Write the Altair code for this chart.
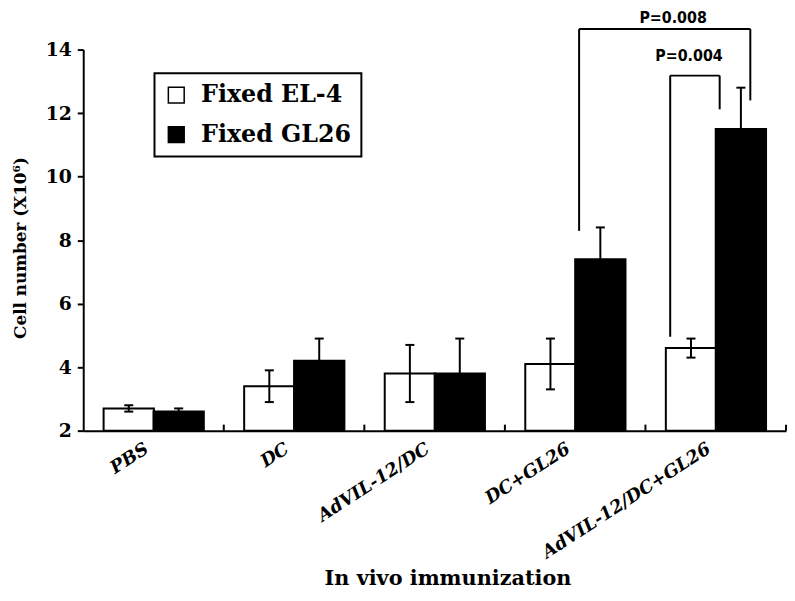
import json
import altair as alt
import pandas as pd

# ---------------- data ----------------
categories = ["PBS", "DC", "AdVIL-12/DC", "DC+GL26", "AdVIL-12/DC+GL26"]
series = ["Fixed EL-4", "Fixed GL26"]
el4_mean = [2.7, 3.4, 3.8, 4.1, 4.6]
el4_err = [0.1, 0.5, 0.9, 0.8, 0.3]
gl26_mean = [2.6, 4.2, 3.8, 7.4, 11.5]
gl26_err = [0.1, 0.7, 1.1, 1.0, 1.3]
y_ticks = [2, 4, 6, 8, 10, 12, 14]
category_bounds = [1, 2, 3, 4, 5]

# significance brackets (in data units)
p_labels = ["P=0.008", "P=0.004"]
p_label_x = [4.197, 4.31]
p_label_y = [15.0, 13.8]
br_left_x = [3.528, 4.176]
br_right_x = [4.746, 4.528]
br_top = [14.65, 13.18]
br_left_bottom = [8.29, 4.96]
br_right_bottom = [12.4, 12.12]

# ---------------- layout constants ----------------
BAR_START = {"Fixed EL-4": 0.145, "Fixed GL26": 0.5}
BAR_W = 0.358
CAP = 0.032
Y_MIN = 2

rows = []
for i, c in enumerate(categories):
    for s, m, e in ((series[0], el4_mean[i], el4_err[i]), (series[1], gl26_mean[i], gl26_err[i])):
        x0 = i + BAR_START[s]
        x1 = x0 + BAR_W
        rows.append(dict(cat=c, series=s, x0=x0, x1=x1, xc=(x0 + x1) / 2,
                         mean=m, lo=m - e, hi=m + e))
bars_df = pd.DataFrame(rows)

caps = []
for r in rows:
    for yv in (r["lo"], r["hi"]):
        caps.append(dict(cx0=r["xc"] - CAP, cx1=r["xc"] + CAP, cy=yv))
caps_df = pd.DataFrame(caps)

segs = []
for k in range(len(p_labels)):
    segs.append(dict(sx=br_left_x[k], sx2=br_left_x[k], sy=br_left_bottom[k], sy2=br_top[k]))
    segs.append(dict(sx=br_left_x[k], sx2=br_right_x[k], sy=br_top[k], sy2=br_top[k]))
    segs.append(dict(sx=br_right_x[k], sx2=br_right_x[k], sy=br_right_bottom[k], sy2=br_top[k]))
segs_df = pd.DataFrame(segs)
plabels_df = pd.DataFrame(dict(t=p_labels, px=p_label_x, py=p_label_y))
bounds_df = pd.DataFrame(dict(b=category_bounds, y0=[Y_MIN] * len(category_bounds),
                              y1=[Y_MIN + 0.19] * len(category_bounds)))

xscale = alt.Scale(domain=[0, len(categories)], nice=False, zero=False)
yscale = alt.Scale(domain=[Y_MIN, 14], nice=False, zero=False)

SERIF = "DejaVu Serif"
label_expr = json.dumps(categories) + "[floor(datum.value)]"

x_axis = alt.Axis(
    values=[i + 0.5 for i in range(len(categories))], labelExpr=label_expr,
    ticks=False, tickSize=0, labelAngle=327, labelAlign="right", labelBaseline="top",
    labelPadding=9, labelOffset=-12, labelFont=SERIF, labelFontStyle="italic",
    labelFontWeight="bold", labelFontSize=18, labelColor="black", labelLimit=500,
    labelOverlap=False, labelFlush=False, labelBound=False,
    title="In vivo immunization", titleFont=SERIF, titleFontWeight="bold",
    titleFontSize=21, titleColor="black", titleX=368, titleY=155,
    titleAlign="center", titleBaseline="alphabetic",
    domainColor="black", domainWidth=2, grid=False)

y_axis = alt.Axis(
    values=y_ticks, title="Cell number (X10⁶)", titleFont=SERIF, titleFontWeight="bold",
    titleFontSize=17, titleColor="black", titleX=-63, titleY=200, titleAngle=270,
    titleAlign="center", titleBaseline="middle",
    labelFont=SERIF, labelFontWeight="bold", labelFontSize=19, labelColor="black",
    labelPadding=6, tickSize=6, tickWidth=2, tickColor="black",
    domainColor="black", domainWidth=2, grid=False)

legend = alt.Legend(
    title=None, orient="none", legendX=72, legendY=24, direction="vertical",
    symbolType="square", symbolSize=256, symbolStrokeColor="black", symbolStrokeWidth=1.5,
    labelFont=SERIF, labelFontWeight="bold", labelFontSize=24, labelColor="black",
    labelOffset=13, rowPadding=16, padding=10, strokeColor="black", fillColor="white",
    labelLimit=400)


def X(field):
    return alt.X(field, scale=xscale, axis=x_axis)


def Y(field):
    return alt.Y(field, scale=yscale, axis=y_axis)


bars = alt.Chart(bars_df).mark_bar(stroke="black", strokeWidth=2).encode(
    x=X("x0:Q"),
    x2="x1:Q",
    y=Y("mean:Q"),
    y2=alt.datum(Y_MIN),
    fill=alt.Fill("series:N", scale=alt.Scale(domain=series, range=["white", "black"]), legend=legend),
)

err = alt.Chart(bars_df).mark_rule(color="black", strokeWidth=2).encode(
    x=X("xc:Q"), y=Y("lo:Q"), y2="hi:Q",
)

cap_marks = alt.Chart(caps_df).mark_rule(color="black", strokeWidth=2).encode(
    x=X("cx0:Q"), x2="cx1:Q", y=Y("cy:Q"),
)

bound_ticks = alt.Chart(bounds_df).mark_rule(color="black", strokeWidth=2).encode(
    x=X("b:Q"), y=Y("y0:Q"), y2="y1:Q",
)

brackets = alt.Chart(segs_df).mark_rule(color="black", strokeWidth=2).encode(
    x=X("sx:Q"), x2="sx2:Q", y=Y("sy:Q"), y2="sy2:Q",
)

ptext = alt.Chart(plabels_df).mark_text(
    font="DejaVu Sans Condensed", fontWeight="bold", fontSize=16, color="black",
    align="center", baseline="middle",
).encode(
    x=X("px:Q"), y=Y("py:Q"), text="t:N",
)

chart = alt.layer(bars, err, cap_marks, bound_ticks, brackets, ptext).properties(
    width=710, height=385,
    autosize=alt.AutoSizeParams(type="none"),
    padding={"left": 76, "top": 39, "right": 1, "bottom": 161},
).configure_view(stroke=None).configure_legend(strokeWidth=2)

chart.save("out.html", embed_options={"renderer": "svg", "actions": False})
